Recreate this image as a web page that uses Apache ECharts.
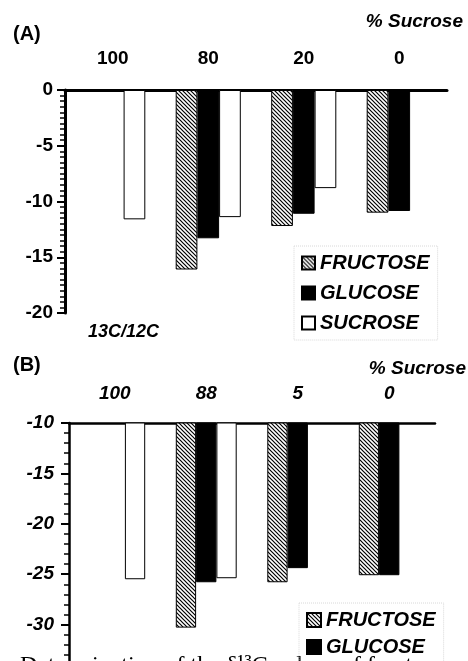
<!DOCTYPE html>
<html><head><meta charset="utf-8">
<script src="https://cdn.jsdelivr.net/npm/echarts@6/dist/echarts.min.js"></script>
<style>html,body{margin:0;padding:0;overflow:hidden;background:#fff;} #c{width:468px;height:700px;}</style>
</head><body><div id="c"></div>
<script>
// ---- data ----
const categoriesA = ['100', '80', '20', '0'];
const fructoseA = [null, -16.1, -12.2, -11.0];
const glucoseA = [null, -13.3, -11.1, -10.85];
const sucroseA = [-11.6, -11.4, -8.8, null];

const categoriesB = ['100', '88', '5', '0'];
const fructoseB = [null, -30.3, -25.8, -25.1];
const glucoseB = [null, -25.8, -24.4, -25.1];
const sucroseB = [-25.5, -25.4, null, null];

const seriesNames = ['FRUCTOSE', 'GLUCOSE', 'SUCROSE'];
const legendNamesB = ['FRUCTOSE', 'GLUCOSE'];
const yRangeA = [-20, 0];
const yRangeB = [-35, -10];
const yStep = 5;

// ---- style ----
const SANS = '"Liberation Sans", Arial, sans-serif';
function hatch() {
  const c = document.createElement('canvas');
  c.width = 4; c.height = 4;
  const g = c.getContext('2d');
  g.fillStyle = '#fff'; g.fillRect(0, 0, 4, 4);
  g.strokeStyle = '#000'; g.lineWidth = 1.2;
  g.beginPath();
  g.moveTo(-1, -1); g.lineTo(5, 5);
  g.moveTo(-1, 3); g.lineTo(1, 5);
  g.moveTo(3, -1); g.lineTo(5, 1);
  g.stroke();
  return c;
}
const hatchFill = { image: hatch(), repeat: 'repeat' };
const colors = [hatchFill, '#000', '#fff'];

function bar(name, data, idx, color, bw) {
  return {
    type: 'bar', name: name, data: data, xAxisIndex: idx, yAxisIndex: idx,
    barWidth: bw, barGap: '0%', clip: true,
    itemStyle: { color: color, borderColor: '#000', borderWidth: 1 },
    emphasis: { disabled: true }
  };
}

function xAxis(idx, data, italic, margin) {
  return {
    gridIndex: idx, type: 'category', data: data, position: 'top',
    axisLine: { onZero: false, lineStyle: { color: '#000', width: idx === 0 ? 3 : 2.5 } },
    axisTick: { inside: true, length: 6, lineStyle: { color: '#000', width: 2 } },
    axisLabel: { color: '#000', fontSize: 19, fontWeight: 'bold', fontStyle: italic ? 'italic' : 'normal', fontFamily: SANS, margin: margin },
    splitLine: { show: false }
  };
}
function yAxis(idx, range, minorSplit, italic, margin) {
  return {
    gridIndex: idx, type: 'value', min: range[0], max: range[1], interval: yStep,
    axisLine: { show: true, lineStyle: { color: '#000', width: idx === 0 ? 3 : 2.5 } },
    axisTick: { show: true, length: 8, lineStyle: { color: '#000', width: 2 } },
    minorTick: { show: true, splitNumber: minorSplit, length: 5, lineStyle: { color: '#000', width: 1.5 } },
    splitLine: { show: false },
    axisLabel: { color: '#000', fontSize: 19, fontWeight: 'bold', fontStyle: italic ? 'italic' : 'normal', fontFamily: SANS, margin: margin }
  };
}
function legend(data, left, top, gap, size) {
  return {
    data: data, orient: 'vertical', left: left, top: top, padding: [7, 8, 7, 7],
    itemWidth: size, itemHeight: size, itemGap: gap, icon: 'rect', selectedMode: false,
    borderColor: '#d8d8d8', borderType: 'dotted', borderWidth: 1,
    textStyle: { fontSize: 20, fontWeight: 'bold', fontStyle: 'italic', color: '#000', fontFamily: SANS }
  };
}
function label(text, x, y, size, italic, align) {
  return {
    type: 'text', x: x, y: y, silent: true,
    style: { text: text, fill: '#000', font: (italic ? 'italic ' : '') + 'bold ' + size + 'px ' + SANS, align: align || 'left', verticalAlign: 'middle' }
  };
}

const chart = echarts.init(document.getElementById('c'), null, { renderer: 'canvas' });
chart.setOption({
  animation: false,
  backgroundColor: '#fff',
  grid: [
    { left: 65, top: 90, width: 382, height: 223 },
    { left: 69, top: 423, width: 366, height: 252 }
  ],
  xAxis: [xAxis(0, categoriesA, false, 22), xAxis(1, categoriesB, true, 20)],
  yAxis: [yAxis(0, yRangeA, 10, false, 12), yAxis(1, yRangeB, 5, true, 15)],
  legend: [legend(seriesNames, 294, 246, 10, 13), legend(legendNamesB, 299, 603, 7, 14)],
  series: [
    bar(seriesNames[0], fructoseA, 0, colors[0], 21.7),
    bar(seriesNames[1], glucoseA, 0, colors[1], 21.7),
    bar(seriesNames[2], sucroseA, 0, colors[2], 21.7),
    bar(seriesNames[0], fructoseB, 1, colors[0], 20.3),
    bar(seriesNames[1], glucoseB, 1, colors[1], 20.3),
    bar(seriesNames[2], sucroseB, 1, colors[2], 20.3)
  ],
  graphic: [
    label('(A)', 13, 34, 20, false),
    label('% Sucrose', 463, 22, 19, true, 'right'),
    label('13C/12C', 88, 332, 18, true),
    label('(B)', 13, 365, 20, false),
    label('% Sucrose', 466, 369, 19, true, 'right'),
    {
      type: 'text', x: 20, y: 654, silent: true, z: -1,
      style: { text: 'Determination of the δ¹³C values of fructose', fill: '#000', font: '24px "Liberation Serif", "Times New Roman", serif', align: 'left', verticalAlign: 'top' }
    }
  ]
});
</script>
</body></html>
